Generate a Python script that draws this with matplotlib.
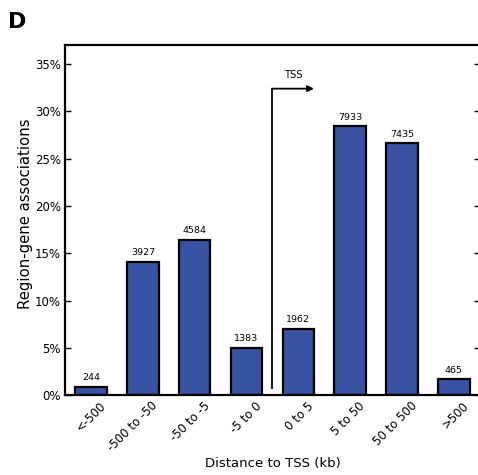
import matplotlib
matplotlib.use("Agg")
import matplotlib.pyplot as plt
import matplotlib.ticker as ticker
import matplotlib.transforms as mtransforms

categories = ["<-500", "-500 to -50", "-50 to -5", "-5 to 0", "0 to 5", "5 to 50", "50 to 500", ">500"]
counts = [244, 3927, 4584, 1383, 1962, 7933, 7435, 465]
total = sum(counts)
percents = [100.0 * c / total for c in counts]

bar_color = "#3953a4"

fig = plt.figure(figsize=(4.78, 4.75), dpi=100)
ax = fig.add_axes([0.136, 0.168, 0.868, 0.737])

xs = list(range(len(categories)))
ax.bar(xs, percents, width=0.61, color=bar_color, edgecolor="black", linewidth=1.6)

for x, p, c in zip(xs, percents, counts):
    ax.annotate(str(c), (x, p), xytext=(0, 3.5), textcoords="offset points",
                ha="center", va="bottom", fontsize=6.8)

ax.set_xlim(-0.5, 7.5)
ax.set_ylim(0, 37)
ax.yaxis.set_major_locator(ticker.MultipleLocator(5))
ax.yaxis.set_major_formatter(ticker.FuncFormatter(lambda y, pos: "{:.0f}%".format(y)))
ax.tick_params(axis="y", direction="in", right=True, length=4, width=1, labelsize=8.5, pad=3)
ax.tick_params(axis="x", length=0, labelsize=8.5, pad=3)
ax.set_xticks(xs)
ax.set_xticklabels(categories, rotation=45, ha="right", va="top", rotation_mode="anchor")
# nudge rotated labels right so they end just past the bar centre
shift = mtransforms.ScaledTranslation(6 / 72, 0, fig.dpi_scale_trans)
for lbl in ax.get_xticklabels():
    lbl.set_transform(lbl.get_transform() + shift)

for s in ax.spines.values():
    s.set_linewidth(1.6)

# TSS arrow
ax.plot([3.5, 3.5], [0.75, 32.4], color="black", linewidth=1.3)
ax.annotate("", xy=(4.3, 32.4), xytext=(3.49, 32.4),
            arrowprops=dict(arrowstyle="-|>", color="black", lw=1.3,
                            shrinkA=0, shrinkB=0, mutation_scale=9))
ax.text(3.9, 33.3, "TSS", ha="center", va="bottom", fontsize=7.2)

ax.set_ylabel("Region-gene associations", fontsize=10.7)
ax.yaxis.set_label_coords(-0.078, 0.517)
ax.set_xlabel("Distance to TSS (kb)", fontsize=9.5)
ax.xaxis.set_label_coords(0.5, -0.176)

fig.text(0.017, 0.975, "D", fontsize=16, fontweight="bold", va="top", ha="left")

fig.savefig("out.png", dpi=100)
